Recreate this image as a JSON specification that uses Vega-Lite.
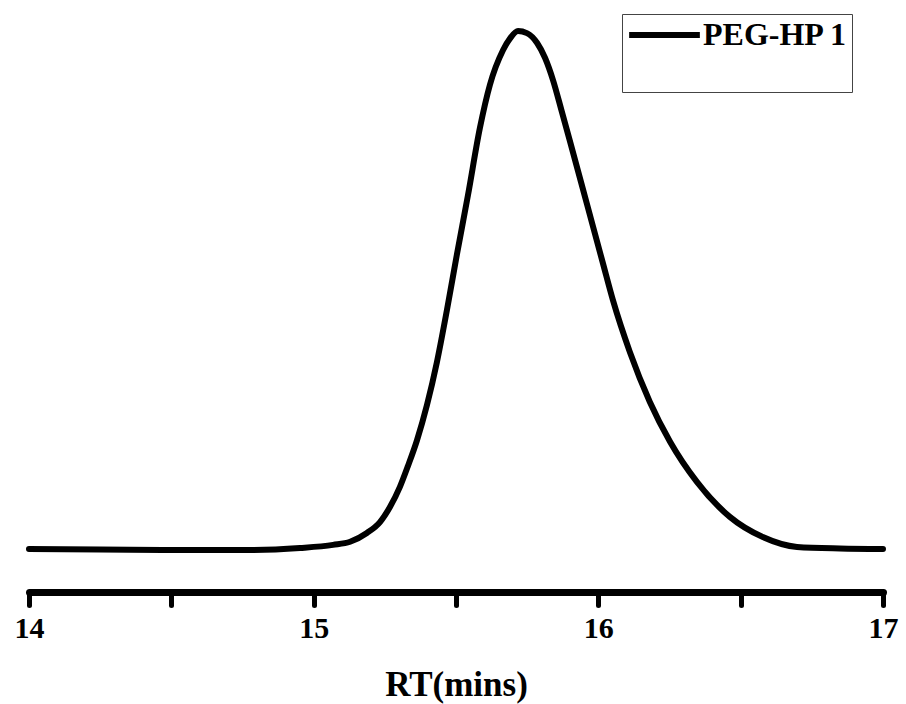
{
  "$schema": "https://vega.github.io/schema/vega-lite/v6.json",
  "width": 854,
  "height": 592,
  "autosize": {"type": "none"},
  "padding": {"left": 29, "right": 23, "top": 0, "bottom": 112},
  "background": "white",
  "config": {"view": {"stroke": null}},
  "data": {
    "values": [
      {"rt": 14.000, "v": 0.000, "s": "PEG-HP 1"},
      {"rt": 14.249, "v": -0.001, "s": "PEG-HP 1"},
      {"rt": 14.499, "v": -0.002, "s": "PEG-HP 1"},
      {"rt": 14.776, "v": -0.002, "s": "PEG-HP 1"},
      {"rt": 14.952, "v": 0.002, "s": "PEG-HP 1"},
      {"rt": 15.068, "v": 0.008, "s": "PEG-HP 1"},
      {"rt": 15.128, "v": 0.014, "s": "PEG-HP 1"},
      {"rt": 15.187, "v": 0.031, "s": "PEG-HP 1"},
      {"rt": 15.233, "v": 0.052, "s": "PEG-HP 1"},
      {"rt": 15.268, "v": 0.081, "s": "PEG-HP 1"},
      {"rt": 15.303, "v": 0.120, "s": "PEG-HP 1"},
      {"rt": 15.331, "v": 0.160, "s": "PEG-HP 1"},
      {"rt": 15.363, "v": 0.210, "s": "PEG-HP 1"},
      {"rt": 15.398, "v": 0.278, "s": "PEG-HP 1"},
      {"rt": 15.433, "v": 0.361, "s": "PEG-HP 1"},
      {"rt": 15.468, "v": 0.461, "s": "PEG-HP 1"},
      {"rt": 15.503, "v": 0.568, "s": "PEG-HP 1"},
      {"rt": 15.542, "v": 0.683, "s": "PEG-HP 1"},
      {"rt": 15.584, "v": 0.813, "s": "PEG-HP 1"},
      {"rt": 15.619, "v": 0.896, "s": "PEG-HP 1"},
      {"rt": 15.665, "v": 0.963, "s": "PEG-HP 1"},
      {"rt": 15.690, "v": 0.986, "s": "PEG-HP 1"},
      {"rt": 15.718, "v": 1.000, "s": "PEG-HP 1"},
      {"rt": 15.749, "v": 0.996, "s": "PEG-HP 1"},
      {"rt": 15.785, "v": 0.977, "s": "PEG-HP 1"},
      {"rt": 15.813, "v": 0.948, "s": "PEG-HP 1"},
      {"rt": 15.841, "v": 0.905, "s": "PEG-HP 1"},
      {"rt": 15.872, "v": 0.844, "s": "PEG-HP 1"},
      {"rt": 15.900, "v": 0.788, "s": "PEG-HP 1"},
      {"rt": 15.960, "v": 0.666, "s": "PEG-HP 1"},
      {"rt": 16.016, "v": 0.552, "s": "PEG-HP 1"},
      {"rt": 16.051, "v": 0.481, "s": "PEG-HP 1"},
      {"rt": 16.111, "v": 0.380, "s": "PEG-HP 1"},
      {"rt": 16.181, "v": 0.284, "s": "PEG-HP 1"},
      {"rt": 16.252, "v": 0.207, "s": "PEG-HP 1"},
      {"rt": 16.347, "v": 0.129, "s": "PEG-HP 1"},
      {"rt": 16.462, "v": 0.062, "s": "PEG-HP 1"},
      {"rt": 16.578, "v": 0.023, "s": "PEG-HP 1"},
      {"rt": 16.698, "v": 0.004, "s": "PEG-HP 1"},
      {"rt": 16.849, "v": 0.001, "s": "PEG-HP 1"},
      {"rt": 17.000, "v": 0.000, "s": "PEG-HP 1"}
    ]
  },
  "mark": {"type": "line", "strokeWidth": 6, "interpolate": "monotone", "strokeCap": "round", "strokeJoin": "round"},
  "encoding": {
    "x": {
      "field": "rt",
      "type": "quantitative",
      "scale": {"domain": [14, 17], "nice": false, "zero": false},
      "axis": {
        "title": "RT(mins)",
        "values": [14, 14.5, 15, 15.5, 16, 16.5, 17],
        "labelExpr": "datum.value % 1 === 0 ? format(datum.value, 'd') : ''",
        "grid": false,
        "domainColor": "black",
        "domainWidth": 7,
        "domainCap": "round",
        "tickColor": "black",
        "tickWidth": 5,
        "tickSize": 13,
        "tickCap": "round",
        "labelFont": "Liberation Serif",
        "labelFontWeight": "bold",
        "labelFontSize": 30,
        "labelColor": "black",
        "labelPadding": 8,
        "labelFlush": false,
        "labelOverlap": false,
        "titleFont": "Liberation Serif",
        "titleFontWeight": "bold",
        "titleFontSize": 35,
        "titleColor": "black",
        "titlePadding": 24
      }
    },
    "y": {
      "field": "v",
      "type": "quantitative",
      "scale": {"domain": [-0.083, 1.06], "nice": false, "zero": false},
      "axis": null
    },
    "color": {
      "field": "s",
      "type": "nominal",
      "scale": {"range": ["black"]},
      "legend": {
        "orient": "none",
        "legendX": 593,
        "legendY": 14,
        "title": " ",
        "titleOrient": "bottom",
        "titleFontSize": 28,
        "titlePadding": 8,
        "symbolType": "stroke",
        "symbolSize": 5000,
        "symbolStrokeWidth": 6,
        "clipHeight": 34,
        "labelFont": "Liberation Serif",
        "labelFontWeight": "bold",
        "labelFontSize": 32,
        "labelColor": "black",
        "labelOffset": 0,
        "padding": 4,
        "strokeColor": "#444",
        "fillColor": "white"
      }
    }
  }
}
